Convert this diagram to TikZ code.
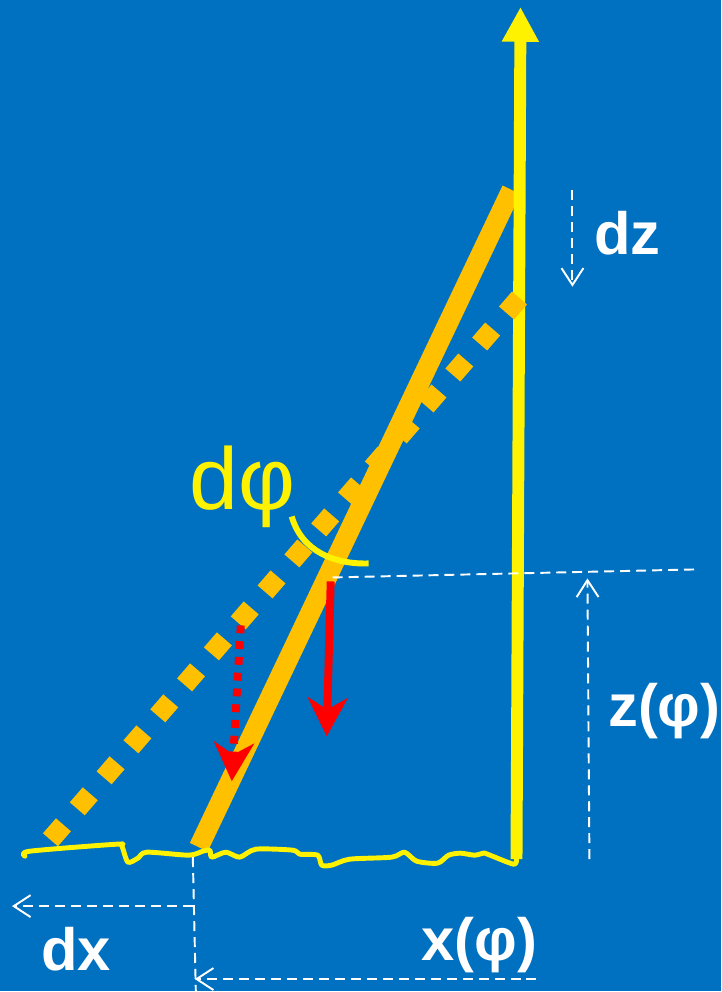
\documentclass[tikz,border=0pt]{standalone}
\usepackage{fontspec}
\setmainfont{Liberation Sans}
\usetikzlibrary{arrows.meta}

\definecolor{bgblue}{HTML}{0070C0}
\definecolor{rodorange}{HTML}{FFC000}

\begin{document}
\begin{tikzpicture}[
        x=0.02cm, y=-0.02cm,
        rod/.style={draw=rodorange, line width=11.3pt},
        tilted/.style={draw=rodorange, line width=11.3pt, dash pattern=on 11.3pt off 12.05pt},
        axisline/.style={draw=yellow, line width=6.8pt, -{Triangle[length=19.8pt, width=19.8pt]}},
        ground/.style={draw=yellow, line width=2.8pt, line join=round, line cap=round},
        force/.style={draw=red, line width=4.5pt, -{Stealth[length=22pt, width=22.7pt, inset=6.8pt]}},
        guide/.style={draw=white, line width=1.1pt, dash pattern=on 5.7pt off 3.4pt},
        measure/.style={guide, -{Straight Barb[length=9.6pt, width=12.5pt]}},
        dimlabel/.style={text=white, font=\fontsize{34}{40}\selectfont\bfseries, inner sep=0pt},
      ]

        \fill[bgblue] (0,0) rectangle (722,992);

        \coordinate (foot) at (199,848);
        \coordinate (rodtop) at (512,190);
        \coordinate (base) at (517,860);
        \coordinate (sky) at (521,7);
        \coordinate (pivot) at (333,578);

        \draw[rod] (foot) -- (rodtop);
        \draw[axisline] (base) -- (sky);
        \draw[tilted] (50.5,840.6) coordinate (tiltfoot) -- (522.5,295.4) coordinate (tilttop);

        \draw[ground] plot[smooth, tension=0.45] coordinates {
          (25,857) (30,852) (117,845) (122,847) (128,863) (138,859) (147,853)
          (189,856) (203,852) (210,851) (212,858) (226,853) (240,858) (256,850)
          (293,851) (300,855) (318,856) (322,866) (332,866) (350,860) (392,858)
          (405,853) (417,862) (438,864) (449,856) (461,854) (475,856) (484,854)
          (488,855) (514,865) (517,860)};

        \draw[draw=yellow, line width=3.4pt] (292,517) coordinate (arcstart)
          .. controls (302,552) and (335,565) .. (369,564) coordinate (arcend);

        \coordinate (pivotfar) at (695,570);
        \draw[guide] (pivot) -- (pivotfar);

        \coordinate (zlow) at (590,860);
        \coordinate (zhigh) at (588,579);
        \draw[measure] (zlow) -- (zhigh);

        \coordinate (dzstart) at (573,190);
        \coordinate (dzend) at (573,287);
        \draw[measure] (dzstart) -- (dzend);

        \coordinate (footmark) at (193,858);
        \coordinate (footlow) at (196,992);
        \draw[guide] (footmark) -- (footlow);

        \coordinate (dxstart) at (193,907);
        \coordinate (dxend) at (12,907);
        \draw[measure] (dxstart) -- (dxend);

        \coordinate (xstart) at (537,980);
        \coordinate (xend) at (195,980);
        \draw[measure] (xstart) -- (xend);

        \coordinate (weight) at (331,582);
        \coordinate (weightend) at (327,737);
        \draw[force] (weight) -- (weightend);

        \coordinate (tiltweight) at (241,626);
        \coordinate (tiltweightend) at (232,782);
        \draw[force, dash pattern=on 4.5pt off 4.5pt] (tiltweight) -- (tiltweightend);

        \node[text=yellow, font=\fontsize{50}{60}\selectfont, inner sep=0pt] (dphi) at (243,487) {dφ};
        \node[dimlabel] (dz) at (628,233) {dz};
        \node[dimlabel] (zphi) at (665,712) {z(φ)};
        \node[dimlabel] (dx) at (76,950) {dx};
        \node[dimlabel] (xphi) at (480,946) {x(φ)};
      \end{tikzpicture}
\end{document}
